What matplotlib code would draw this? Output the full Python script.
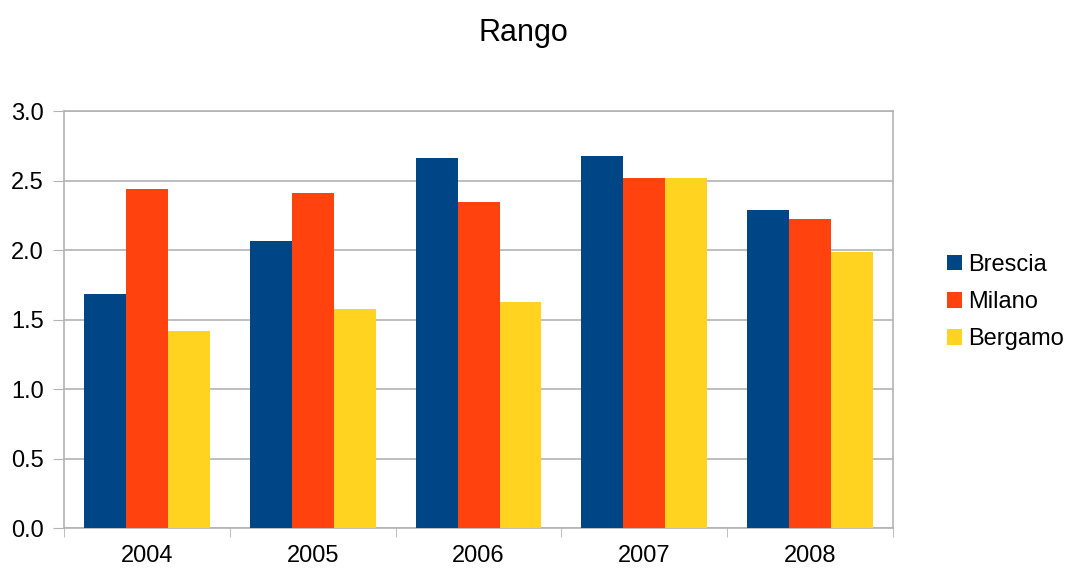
import numpy as np
import matplotlib.pyplot as plt

plt.rcParams['font.family'] = ['Liberation Sans', 'DejaVu Sans']

anni = ['2004', '2005', '2006', '2007', '2008']
brescia = [1.685, 2.066, 2.665, 2.68, 2.29]
milano = [2.438, 2.413, 2.345, 2.517, 2.225]
bergamo = [1.42, 1.575, 1.63, 2.517, 1.99]

serie = [('Brescia', brescia, '#004586'),
         ('Milano', milano, '#ff420e'),
         ('Bergamo', bergamo, '#ffd320')]

fig = plt.figure(figsize=(10.67, 5.71), dpi=100)
ax = fig.add_axes([0.06, 0.075, 0.777, 0.73])

x = np.arange(len(anni))
w = 0.253
for i, (nome, valori, colore) in enumerate(serie):
    ax.bar(x + (i - 1) * w, valori, w, color=colore, label=nome, zorder=3)

ax.set_xlim(-0.5, len(anni) - 0.5)
ax.set_ylim(0, 3.0)
ax.set_yticks(np.arange(0, 3.01, 0.5))
ax.set_yticklabels(['%.1f' % v for v in np.arange(0, 3.01, 0.5)])
ax.set_xticks(x)
ax.set_xticklabels(anni)
ax.set_xticks(np.arange(-0.5, len(anni), 1), minor=True)
ax.tick_params(axis='x', which='major', length=0, labelsize=17, pad=12)
ax.tick_params(axis='x', which='minor', length=6.5, color='#b3b3b3', direction='out')
ax.tick_params(axis='y', length=8, color='#b3b3b3', labelsize=17, pad=6.5)
ax.yaxis.grid(True, color='#b3b3b3', linewidth=1.2, zorder=0)
for s in ax.spines.values():
    s.set_color('#b3b3b3')
    s.set_linewidth(1.2)

fig.text(523 / 1067, 1 - 40.7 / 571, 'Rango', ha='center', va='baseline', fontsize=22)

ax.legend(loc='center left', bbox_to_anchor=(947 / 1067, 1 - 302 / 571),
          bbox_transform=fig.transFigure, frameon=False, borderpad=0,
          borderaxespad=0, fontsize=17, handlelength=0.64, handleheight=0.64,
          handletextpad=0.25, labelspacing=0.65)

plt.savefig('out.png', dpi=100)
